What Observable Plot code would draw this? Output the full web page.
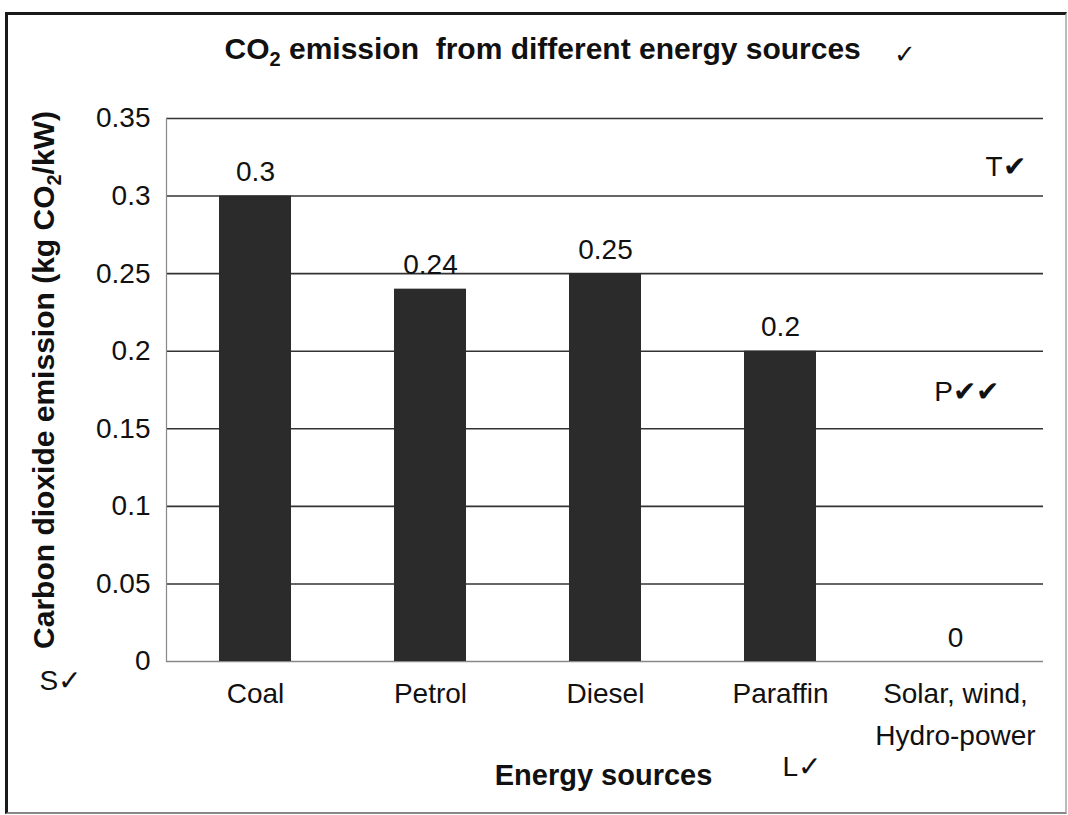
<!DOCTYPE html>
<html>
<head>
<meta charset="utf-8">
<script src="https://cdn.jsdelivr.net/npm/d3@7"></script>
<script src="https://cdn.jsdelivr.net/npm/@observablehq/plot@0.6"></script>
<style>
  html, body { margin: 0; padding: 0; background: #fff; }
  #wrap { position: relative; width: 1068px; height: 815px; overflow: hidden; }
  #border { position: absolute; left: 5px; top: 12px; width: 1057px; height: 797px;
    border-left: 3px solid #1a1a1a; border-top: 3px solid #1a1a1a;
    border-right: 2px solid #bbb; border-bottom: 2px solid #888; pointer-events: none; }
  svg { font-family: "Liberation Sans", Arial, sans-serif; }
</style>
</head>
<body>
<div id="wrap"><div id="border"></div></div>
<script>
const categories = ["Coal", "Petrol", "Diesel", "Paraffin", "Solar, wind,\nHydro-power"];
const emissions = [0.3, 0.24, 0.25, 0.2, 0];
const yTicks = [0, 0.05, 0.1, 0.15, 0.2, 0.25, 0.3, 0.35];
const yTickLabels = ["0", "0.05", "0.1", "0.15", "0.2", "0.25", "0.3", "0.35"];
const titleText = "CO\u2082 emission  from different energy sources";
const yLabel = "Carbon dioxide emission (kg CO\u2082/kW)";
const xLabel = "Energy sources";
const markT = [{text: "T\u2714", x: "Solar, wind,\nHydro-power", y: 0.319}];
const markP = [{text: "P\u2714\u2714", x: "Solar, wind,\nHydro-power", y: 0.174}];

const data = categories.map((c, i) => ({category: c, value: emissions[i]}));

const chart = Plot.plot({
  width: 1068,
  height: 815,
  marginLeft: 166,
  marginRight: 25,
  marginTop: 118,
  marginBottom: 154,
  style: {fontFamily: "'Liberation Sans', Arial, sans-serif", fontSize: "28px", color: "#111", background: "transparent"},
  x: {domain: categories, paddingInner: 0.59, paddingOuter: 0.295, label: null},
  y: {domain: [0, 0.35], label: null},
  marks: [
    Plot.ruleY(yTicks.slice(1), {stroke: "#333", strokeWidth: 1.6, strokeOpacity: 1}),
    Plot.ruleY([0], {stroke: "#888", strokeWidth: 1.5}),
    Plot.frame({anchor: "left", stroke: "#888", strokeWidth: 1.2}),
    Plot.barY(data, {x: "category", y: "value", fill: "#2b2b2b"}),
    Plot.text(data, {x: "category", y: "value", text: d => String(d.value), lineAnchor: "bottom", dy: -15, fontSize: 28, fill: "#111"}),
    Plot.axisY({ticks: yTicks, tickFormat: (d, i) => yTickLabels[i], tickSize: 0, tickPadding: 16, fontSize: 28, label: null}),
    Plot.axisX({tickSize: 0, tickPadding: 12, fontSize: 28, lineHeight: 1.5, label: null}),
    Plot.text([yLabel], {frameAnchor: "left", textAnchor: "middle", lineAnchor: "middle", rotate: -90, dx: -122, dy: -10, fontSize: 30, fontWeight: "bold", fill: "#111"}),
    Plot.text([xLabel], {frameAnchor: "bottom-left", textAnchor: "middle", lineAnchor: "middle", dx: 437, dy: 114, fontSize: 29, fontWeight: "bold", fill: "#111"}),
    Plot.text([titleText], {frameAnchor: "top-left", textAnchor: "start", lineAnchor: "middle", dx: 58, dy: -69, fontSize: 30, fontWeight: "bold", fill: "#111"}),
    Plot.text(["\u2713"], {frameAnchor: "top-left", textAnchor: "start", lineAnchor: "middle", dx: 727, dy: -64, fontSize: 26, fill: "#111"}),
    Plot.text(markT, {x: "x", y: "y", text: "text", dx: 50, fontSize: 28, fill: "#111"}),
    Plot.text(markP, {x: "x", y: "y", text: "text", dx: 11, fontSize: 28, fill: "#111"}),
    Plot.text(["S\u2713"], {frameAnchor: "bottom-left", textAnchor: "start", lineAnchor: "middle", dx: -127, dy: 20, fontSize: 28, fill: "#111"}),
    Plot.text(["L\u2713"], {frameAnchor: "bottom-left", textAnchor: "start", lineAnchor: "middle", dx: 616, dy: 106, fontSize: 28, fill: "#111"})
  ]
});

// Render the "₂" as a real lowered subscript "2"
const NS = "http://www.w3.org/2000/svg";
chart.querySelectorAll("text").forEach(t => {
  if (t.childElementCount === 0 && t.textContent.includes("\u2082")) {
    const parts = t.textContent.split("\u2082");
    t.textContent = "";
    parts.forEach((p, i) => {
      if (i === 0) {
        t.appendChild(document.createTextNode(p));
      } else {
        const sub = document.createElementNS(NS, "tspan");
        sub.setAttribute("dy", "7");
        sub.setAttribute("font-size", "20");
        sub.textContent = "2";
        t.appendChild(sub);
        const rest = document.createElementNS(NS, "tspan");
        rest.setAttribute("dy", "-7");
        rest.textContent = p;
        t.appendChild(rest);
      }
    });
  }
});

document.getElementById("wrap").prepend(chart);
</script>
</body>
</html>
